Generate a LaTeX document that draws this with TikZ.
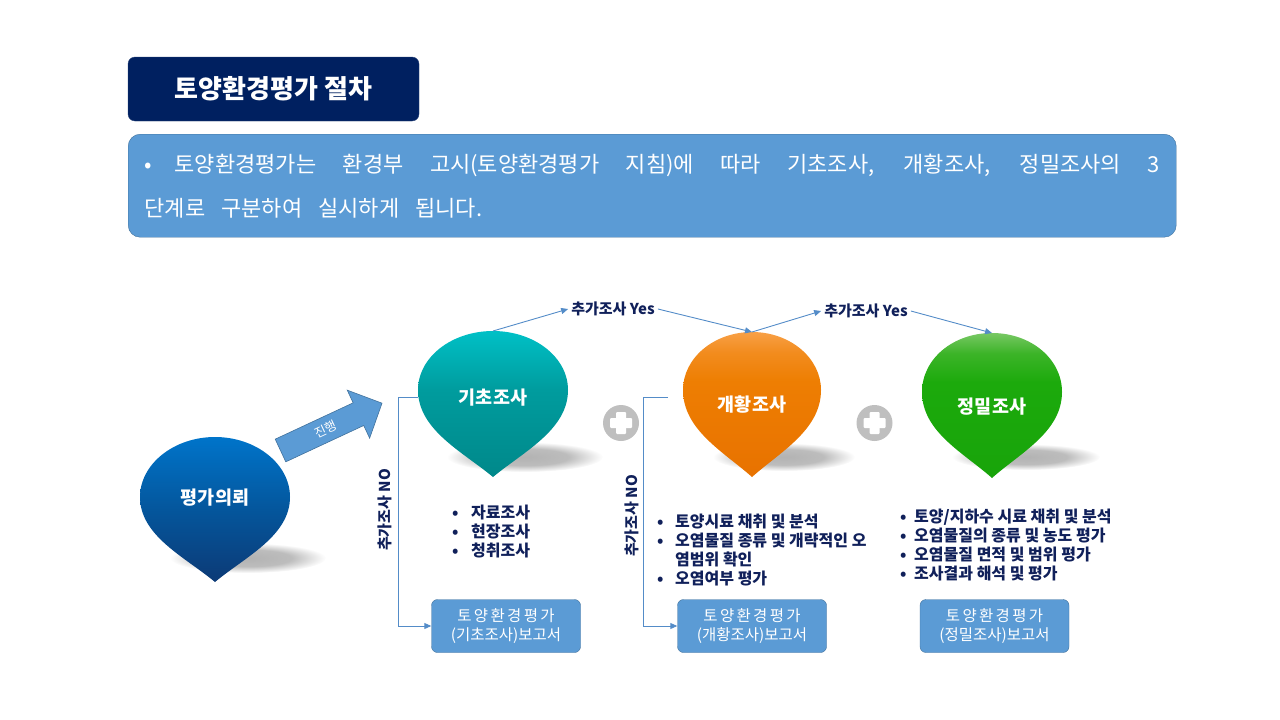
\documentclass[tikz,border=0pt]{standalone}
\usepackage{fontspec}
\setmainfont{Noto Sans CJK KR}
\usetikzlibrary{arrows.meta}

\definecolor{navy}{RGB}{0,32,96}
\definecolor{textnavy}{RGB}{16,32,90}
\definecolor{boxblue}{RGB}{91,155,213}
\definecolor{boxedge}{RGB}{65,113,156}
\definecolor{linkblue}{RGB}{84,140,200}
\definecolor{plusgray}{RGB}{191,191,191}

\pgfdeclareradialshading{softshadow}{\pgfpoint{0bp}{0bp}}{color(0bp)=(black!30); color(14bp)=(black!26); color(25bp)=(white); color(50bp)=(white)}
\pgfdeclareverticalshading{bluedrop}{100bp}{color(0bp)=(rgb,255:red,12;green,58;blue,118); color(25bp)=(rgb,255:red,12;green,58;blue,118); color(50bp)=(rgb,255:red,4;green,86;blue,156); color(75bp)=(rgb,255:red,0;green,116;blue,202); color(100bp)=(rgb,255:red,0;green,116;blue,202)}
\pgfdeclareverticalshading{tealdrop}{100bp}{color(0bp)=(rgb,255:red,0;green,136;blue,138); color(25bp)=(rgb,255:red,0;green,136;blue,138); color(55bp)=(rgb,255:red,0;green,156;blue,158); color(75bp)=(rgb,255:red,0;green,192;blue,198); color(100bp)=(rgb,255:red,0;green,192;blue,198)}
\pgfdeclareverticalshading{orangedrop}{100bp}{color(0bp)=(rgb,255:red,232;green,114;blue,0); color(25bp)=(rgb,255:red,232;green,114;blue,0); color(58bp)=(rgb,255:red,238;green,126;blue,2); color(68bp)=(rgb,255:red,242;green,140;blue,30); color(75bp)=(rgb,255:red,248;green,160;blue,70); color(100bp)=(rgb,255:red,248;green,160;blue,70)}
\pgfdeclareverticalshading{greendrop}{100bp}{color(0bp)=(rgb,255:red,24;green,164;blue,10); color(25bp)=(rgb,255:red,24;green,164;blue,10); color(58bp)=(rgb,255:red,28;green,170;blue,12); color(68bp)=(rgb,255:red,60;green,180;blue,40); color(75bp)=(rgb,255:red,120;green,200;blue,100); color(100bp)=(rgb,255:red,120;green,200;blue,100)}

\tikzset{
  droplabel/.style={text=white, font=\fontsize{18.5}{21}\selectfont\bfseries},
  link/.style={draw=linkblue, line width=0.9pt, -{Triangle[length=7pt,width=6pt]}},
  yeslabel/.style={text=textnavy, inner sep=3pt, font=\fontsize{15}{17}\selectfont\bfseries},
  nolabel/.style={text=textnavy, rotate=90, font=\fontsize{15}{17}\selectfont\bfseries},
  list/.style={text=textnavy, inner sep=0pt, align=left, anchor=west, font=\fontsize{16}{19}\selectfont\bfseries},
  report/.style={fill=boxblue, draw=boxedge, rounded corners=6pt, minimum width=149pt, minimum height=53pt,
    text=white, align=center, font=\fontsize{15.5}{19}\selectfont},
  plussign/.style={circle, fill=plusgray, minimum size=36pt, inner sep=0pt,
    path picture={
      \fill[white, rounded corners=1pt] ([shift={(-5,-11)}]path picture bounding box.center) rectangle ([shift={(5,11)}]path picture bounding box.center);
      \fill[white, rounded corners=1pt] ([shift={(-11,-5)}]path picture bounding box.center) rectangle ([shift={(11,5)}]path picture bounding box.center);
    }}
}

\begin{document}
\begin{tikzpicture}[x=1pt,y=-1pt]
  \useasboundingbox (0,0) rectangle (1280,720);

  % heading and description
  \node[fill=navy, draw=navy!85!white, rounded corners=7pt, minimum width=291pt, minimum height=64pt,
    text=white, font=\fontsize{26}{30}\selectfont\bfseries] (title) at (273.5,89) {토양환경평가 절차};
  \node[fill=boxblue, draw=boxedge, rounded corners=12pt, anchor=north west, text width=1015pt,
    inner xsep=16.5pt, minimum height=103pt, align=justify, text=white,
    font=\fontsize{22}{44}\selectfont] (intro) at (128,134)
    {\spaceskip=16pt plus 20pt\hangindent=30pt\hangafter=1\makebox[30pt][l]{•}토양환경평가는 환경부 고시(토양환경평가 지침)에 따라 기초조사, 개황조사, 정밀조사의 3\linebreak 단계로 구분하여 실시하게 됩니다.};

  % drops
  \begin{scope}[shift={(215,497)}]
    \shade[shading=softshadow] (33,61) ellipse [x radius=78, y radius=15];
    \shade[shading=bluedrop] (0,85) .. controls (-30,60) and (-75,39) .. (-75,0)
      .. controls (-75,-33) and (-41,-60) .. (0,-60) .. controls (41,-60) and (75,-33) .. (75,0)
      .. controls (75,39) and (30,60) .. (0,85) -- cycle;
    \node[droplabel] (req) at (0,1) {평가의뢰};
  \end{scope}
  \begin{scope}[shift={(493,390)}]
    \shade[shading=softshadow] (32,67) ellipse [x radius=78, y radius=15];
    \shade[shading=tealdrop] (0,87) .. controls (-30,62) and (-75,40) .. (-75,0)
      .. controls (-75,-33) and (-41,-59) .. (0,-59) .. controls (41,-59) and (75,-33) .. (75,0)
      .. controls (75,40) and (30,62) .. (0,87) -- cycle;
    \node[droplabel] (basic) at (0,8) {기초조사};
    \coordinate (basic top) at (0,-59);
    \coordinate (basic left) at (-75,7);
  \end{scope}
  \begin{scope}[shift={(752,390)}]
    \shade[shading=softshadow] (32,67) ellipse [x radius=71, y radius=14];
    \shade[shading=orangedrop] (0,87) .. controls (-28,62) and (-69,40) .. (-69,0)
      .. controls (-69,-32) and (-38,-58) .. (0,-58) .. controls (38,-58) and (69,-32) .. (69,0)
      .. controls (69,40) and (28,62) .. (0,87) -- cycle;
    \node[droplabel] (prelim) at (0,15) {개황조사};
    \coordinate (prelim top) at (0,-58);
    \coordinate (prelim left) at (-84,7);
  \end{scope}
  \begin{scope}[shift={(992,392)}]
    \shade[shading=softshadow] (34,65) ellipse [x radius=74, y radius=13];
    \shade[shading=greendrop] (0,86) .. controls (-28,61) and (-70,40) .. (-70,0)
      .. controls (-70,-33) and (-39,-59) .. (0,-59) .. controls (39,-59) and (70,-33) .. (70,0)
      .. controls (70,40) and (28,61) .. (0,86) -- cycle;
    \node[droplabel] (detail) at (0,15) {정밀조사};
    \coordinate (detail top) at (0,-59);
  \end{scope}

  % block arrow
  \begin{scope}[shift={(280.5,450.5)}, rotate=25]
    \fill[boxblue] (0,-12.5) -- (86,-12.5) -- (86,-26.5) -- (112,0) -- (86,26.5) -- (86,12.5) -- (0,12.5) -- cycle;
    \draw[boxedge, line width=0.6pt] (0,-12.5) -- (86,-12.5) -- (86,-26.5) -- (112,0) -- (86,26.5) -- (86,12.5) -- (0,12.5) -- cycle;
  \end{scope}
  \node[text=white, rotate=25, inner sep=0pt, font=\fontsize{12.5}{14}\selectfont] (go) at (326,429) {진행};

  \node[plussign] (plus1) at (621,423) {};
  \node[plussign] (plus2) at (874.5,423) {};

  % yes / no
  \node[yeslabel] (yes1) at (613,309) {추가조사 Yes};
  \node[yeslabel] (yes2) at (866,311) {추가조사 Yes};
  \draw[link] (basic top) -- (yes1.west);
  \draw[link] (yes1.east) -- (prelim top);
  \draw[link] (prelim top) -- (yes2.west);
  \draw[link] (yes2.east) -- (detail top);

  \node[nolabel] (no1) at (385,510) {추가조사 NO};
  \node[nolabel] (no2) at (632,516) {추가조사 NO};

  % lists
  \node[list] (list1) at (452,532) {\makebox[19pt][l]{•}자료조사\\ \makebox[19pt][l]{•}현장조사\\ \makebox[19pt][l]{•}청취조사};
  \node[list] (list2) at (657,550.5) {\makebox[18pt][l]{•}토양시료 채취 및 분석\\ \makebox[18pt][l]{•}오염물질 종류 및 개략적인 오\\ \hspace*{18pt}염범위 확인\\ \makebox[18pt][l]{•}오염여부 평가};
  \node[list] (list3) at (900,545) {\makebox[14pt][l]{•}토양/지하수 시료 채취 및 분석\\ \makebox[14pt][l]{•}오염물질의 종류 및 농도 평가\\ \makebox[14pt][l]{•}오염물질 면적 및 범위 평가\\ \makebox[14pt][l]{•}조사결과 해석 및 평가};

  % reports
  \node[report] (rep1) at (506,626) {{\addfontfeature{LetterSpace=15}토양환경평가}\\(기초조사)보고서};
  \node[report] (rep2) at (752,626) {{\addfontfeature{LetterSpace=15}토양환경평가}\\(개황조사)보고서};
  \node[report] (rep3) at (994.5,626) {{\addfontfeature{LetterSpace=15}토양환경평가}\\(정밀조사)보고서};

  \draw[link] (basic left) -- ++(-20,0) |- (rep1.west);
  \draw[link] (prelim left) -- ++(-25,0) |- (rep2.west);
\end{tikzpicture}
\end{document}
